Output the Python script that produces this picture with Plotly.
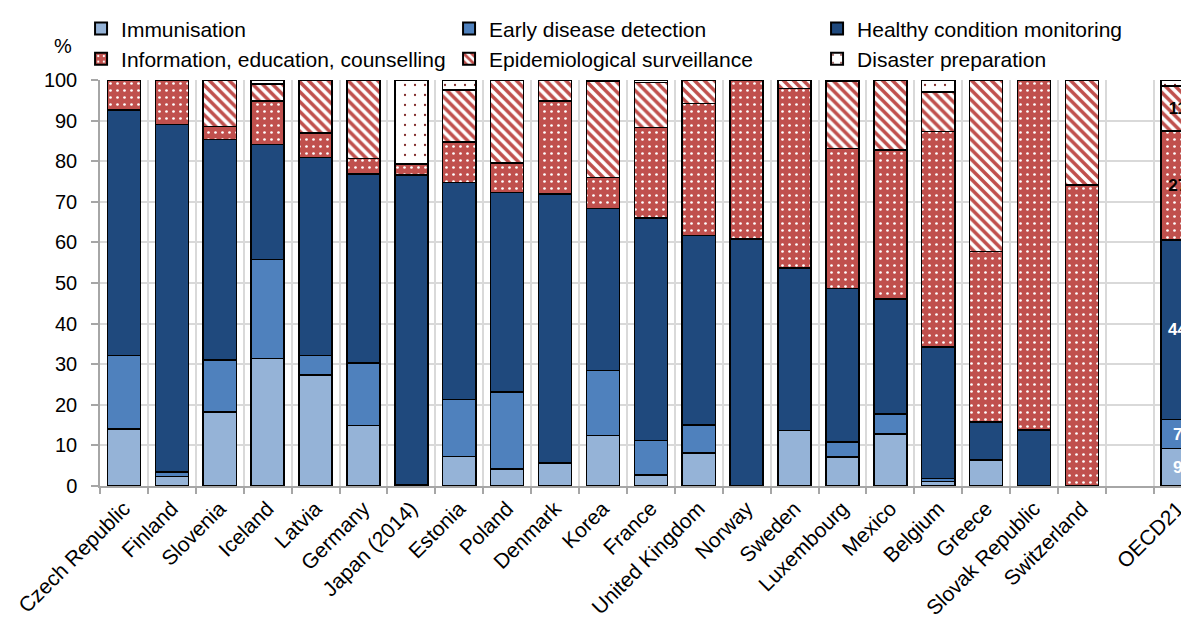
import plotly.graph_objects as go

categories = ["Czech Republic", "Finland", "Slovenia", "Iceland", "Latvia", "Germany",
              "Japan (2014)", "Estonia", "Poland", "Denmark", "Korea", "France",
              "United Kingdom", "Norway", "Sweden", "Luxembourg", "Mexico", "Belgium",
              "Greece", "Slovak Republic", "Switzerland", " ", "OECD21"]

immunisation = [14.0, 2.3, 18.2, 31.4, 27.4, 14.9, 0.2, 7.3, 4.2, 5.6, 12.5, 2.7,
                8.1, 0.0, 13.7, 7.1, 12.8, 1.1, 6.4, 0.0, 0.0, None, 9.2]
early_detection = [18.1, 1.1, 12.8, 24.4, 4.8, 15.4, 0.0, 14.0, 18.9, 0.2, 15.9, 8.5,
                   6.9, 0.0, 0.0, 3.7, 4.9, 0.7, 0.0, 0.0, 0.0, None, 7.2]
healthy_monitoring = [60.5, 85.6, 54.3, 28.3, 48.7, 46.5, 76.4, 53.4, 49.2, 66.1, 39.9, 54.8,
                      46.7, 60.8, 40.0, 37.9, 28.3, 32.4, 9.4, 13.8, 0.0, None, 44.2]
information = [7.4, 11.0, 3.3, 10.7, 6.0, 3.9, 2.7, 10.0, 7.3, 22.9, 7.7, 22.3,
               32.5, 39.2, 44.2, 34.4, 36.7, 53.1, 41.9, 86.2, 74.2, None, 26.9]
epidemiological = [0.0, 0.0, 11.4, 4.2, 13.1, 19.3, 0.0, 12.8, 20.4, 5.2, 23.6, 11.1,
                   5.8, 0.0, 2.1, 16.7, 17.3, 9.8, 42.3, 0.0, 25.8, None, 11.0]
disaster = [0.0, 0.0, 0.0, 1.0, 0.0, 0.0, 20.7, 2.5, 0.0, 0.0, 0.4, 0.6,
            0.0, 0.0, 0.0, 0.2, 0.0, 2.9, 0.0, 0.0, 0.0, None, 1.5]

series_names = ["Immunisation", "Early disease detection", "Healthy condition monitoring",
                "Information, education, counselling", "Epidemiological surveillance",
                "Disaster preparation"]
labelled_category = "OECD21"

FONT = "Liberation Sans, Arial, sans-serif"
RED = "#C0504D"

# figure is placed by the page at an 8px offset (body margin); sizes compensate for it
FIG_W, FIG_H = 1181, 611
M_L, M_T, PLOT_H = 92, 72, 408
PLOT_W = FIG_W - M_L

styles = [
    dict(color="#95B3D7", pattern=None, textcolor="white", label=True),
    dict(color="#4F81BD", pattern=None, textcolor="white", label=True),
    dict(color="#1F497D", pattern=None, textcolor="white", label=True),
    dict(color=RED, pattern=dict(shape=".", fgcolor="white", bgcolor=RED, size=7,
                                 solidity=0.12, fillmode="replace"),
         textcolor="black", label=True),
    dict(color="white", pattern=dict(shape="\\", fgcolor=RED, bgcolor="white", size=7,
                                     solidity=0.5, fillmode="replace"),
         textcolor="black", label=True),
    dict(color="white", pattern=dict(shape=".", fgcolor="#7F2C2A", bgcolor="white", size=10,
                                     solidity=0.04, fillmode="replace"),
         textcolor="black", label=False),
]

all_values = [immunisation, early_detection, healthy_monitoring, information,
              epidemiological, disaster]

fig = go.Figure()
for name, vals, st in zip(series_names, all_values, styles):
    texts = []
    for c, v in zip(categories, vals):
        if st["label"] and c == labelled_category and v is not None:
            texts.append(f"{round(v)}")
        else:
            texts.append("")
    marker = dict(color=st["color"], line=dict(color="black", width=1.5))
    if st["pattern"] is not None:
        marker["pattern"] = st["pattern"]
    fig.add_trace(go.Bar(
        x=categories, y=vals, name=name, marker=marker, width=0.69,
        text=texts, textposition="inside", insidetextanchor="middle", textangle=0,
        constraintext="none",
        textfont=dict(family=FONT, size=17, color=st["textcolor"], weight="bold"),
        hoverinfo="skip",
    ))

fig.update_layout(
    width=FIG_W, height=FIG_H,
    barmode="stack",
    plot_bgcolor="white", paper_bgcolor="white",
    margin=dict(l=M_L, r=0, t=M_T, b=FIG_H - M_T - PLOT_H, pad=0),
    font=dict(family=FONT, size=20, color="black"),
    showlegend=True,
    legend=dict(
        orientation="h", x=-0.0174, xanchor="left", y=1 + M_T / PLOT_H, yanchor="top",
        font=dict(family=FONT, size=21, color="black"),
        entrywidth=323, entrywidthmode="pixels",
        traceorder="normal", itemsizing="constant",
        bgcolor="rgba(0,0,0,0)", borderwidth=0, tracegroupgap=0,
    ),
    xaxis=dict(
        type="category", categoryorder="array", categoryarray=categories,
        range=[-0.5, 22.235],
        tickson="boundaries", ticks="outside", ticklen=6, tickcolor="#A6A6A6", tickwidth=1.5,
        showgrid=True, gridcolor="#D9D9D9", gridwidth=1.5,
        showline=True, linecolor="#A6A6A6", linewidth=2,
        tickangle=-45, tickfont=dict(family=FONT, size=21, color="black"),
        ticklabelstandoff=0,
    ),
    yaxis=dict(
        range=[0, 100], dtick=10, tick0=0,
        ticks="outside", ticklen=7, tickcolor="#A6A6A6", tickwidth=1.5,
        showgrid=True, gridcolor="#D9D9D9", gridwidth=1.5,
        showline=True, linecolor="#A6A6A6", linewidth=1.5,
        zeroline=False,
        tickfont=dict(family=FONT, size=20, color="black"),
        ticklabelstandoff=10,
    ),
    annotations=[dict(
        text="%", xref="paper", yref="paper",
        x=(55 - M_L) / PLOT_W, y=1 + (M_T - 38) / PLOT_H,
        xanchor="center", yanchor="middle", showarrow=False,
        font=dict(family=FONT, size=20, color="black"),
    )],
)

fig.write_html("out.html")
